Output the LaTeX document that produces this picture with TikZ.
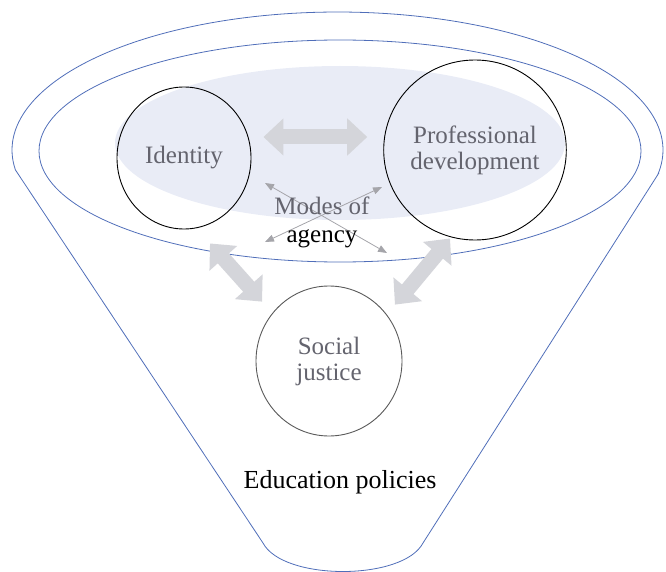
\documentclass[tikz,border=0pt]{standalone}
\usepackage{fontspec}
\setmainfont{Liberation Serif}
\usetikzlibrary{shapes.geometric,arrows.meta}
\definecolor{funnelblue}{RGB}{80,110,185}
\definecolor{softblue}{RGB}{233,236,246}
\definecolor{txtgray}{RGB}{100,100,110}
\definecolor{bigarrowgray}{RGB}{212,213,218}
\definecolor{smallarrowgray}{RGB}{165,165,170}
\begin{document}
\begin{tikzpicture}[x=1pt,y=-1pt,
  funnel/.style={draw=funnelblue, line width=0.8pt},
  concept/.style={ellipse, draw=black, line width=0.9pt, inner sep=0pt, align=center,
    text=txtgray, font=\fontsize{25}{26}\selectfont},
  bigarrow/.style={draw=bigarrowgray, line width=15pt,
    {Triangle[length=20pt,width=36pt]}-{Triangle[length=20pt,width=36pt]}},
  smallarrow/.style={draw=smallarrowgray, line width=0.8pt,
    {Triangle[length=9pt,width=7pt]}-{Triangle[length=9pt,width=7pt]}},
  label/.style={align=center, font=\fontsize{25}{28}\selectfont}
]
\useasboundingbox (0,0) rectangle (666,572);
% soft blue background ellipse
\fill[softblue] (340,143) ellipse [x radius=225pt, y radius=77pt];
% funnel outline
\draw[funnel] (423,543) -- (657.6,175)
  -- plot[domain=-10.44:188.33, samples=120] ({337.5+325.5*cos(\x)}, {150-138*sin(\x)})
  -- (263,543) .. controls (283,581) and (403,581) .. (423,543);
% inner ellipse
\draw[funnel] (340,151) ellipse [x radius=301pt, y radius=111pt];

% concept nodes
\node[concept, minimum width=134pt, minimum height=142pt] (id) at (184,158) {Identity};
\node[concept, minimum width=177pt, minimum height=180pt] (pd) at (475,150) {Professional\\development};
\node[concept, draw=black!65, minimum width=146pt, minimum height=150pt] (sj) at (329,361) {Social\\justice};

% big arrows
\draw[bigarrow] ([xshift=12pt,yshift=21pt]id.east) -- ([xshift=-16pt,yshift=13pt]pd.west);
\draw[bigarrow] ([xshift=26pt,yshift=-14pt]id.south) -- ([xshift=-15pt,yshift=6pt]sj.north west);
\draw[bigarrow] ([xshift=-25pt,yshift=2pt]pd.south) -- ([xshift=14pt,yshift=3pt]sj.north east);

% small crossing arrows
\coordinate (ul) at (265,183);
\coordinate (lr) at (387,253);
\coordinate (ll) at (265,242);
\coordinate (ur) at (382,187);
\draw[smallarrow] (ul) -- (lr);
\draw[smallarrow] (ll) -- (ur);

\node[label] (modes) at (322,222) {{\color{txtgray}Modes of}\\agency};
\node[font=\fontsize{26}{28}\selectfont] (edu) at (340,482) {Education policies};
\end{tikzpicture}
\end{document}
